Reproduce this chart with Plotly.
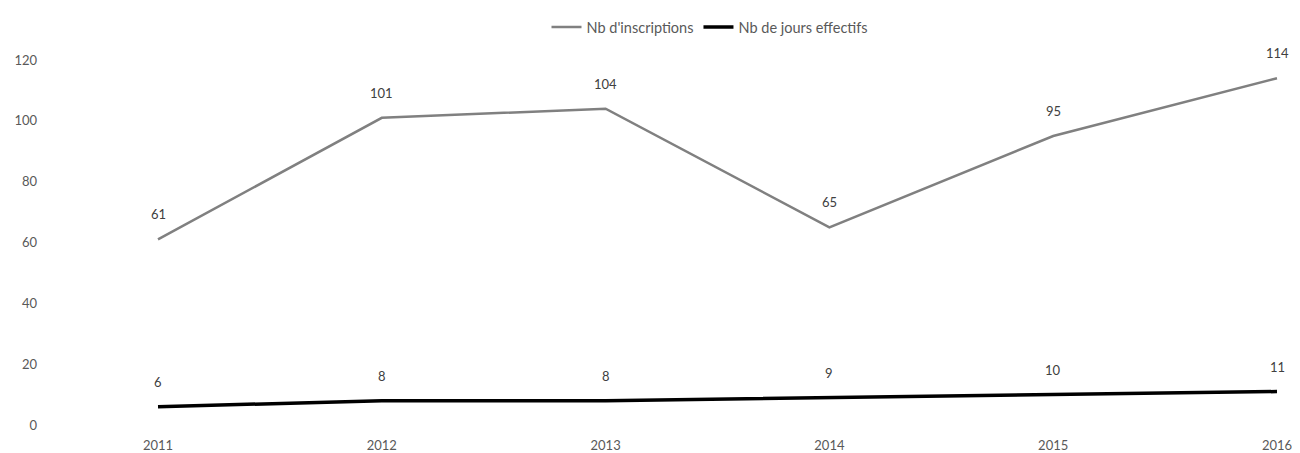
import plotly.graph_objects as go

years = [2011, 2012, 2013, 2014, 2015, 2016]
inscriptions = [61, 101, 104, 65, 95, 114]
jours = [6, 8, 8, 9, 10, 11]
y_ticks = [0, 20, 40, 60, 80, 100, 120]

FONT = "Lato, Open Sans, sans-serif"
TXT = "#595959"

fig = go.Figure()
fig.add_trace(go.Scatter(x=years, y=inscriptions, mode="lines", name="Nb d'inscriptions",
                         line=dict(color="#808080", width=2.5)))
fig.add_trace(go.Scatter(x=years, y=jours, mode="lines", name="Nb de jours effectifs",
                         line=dict(color="#000000", width=3.5)))

annotations = []
for series in (inscriptions, jours):
    for x, y in zip(years, series):
        annotations.append(dict(x=x, y=y, xref="x", yref="y", text=str(y), showarrow=False,
                                yshift=25, font=dict(family=FONT, size=13, color="#404040")))

# page body has an 8px margin, so the figure is sized to fit the remaining viewport
W, H = 1292, 445
left, right = 30, 8
x_first, x_last = 150, 1269  # figure pixel positions of first/last year
step = (x_last - x_first) / (len(years) - 1)
r0 = years[0] - (x_first - left) / step
r1 = years[-1] + (W - right - x_last) / step

fig.update_layout(
    width=W, height=H,
    margin=dict(l=left, r=right, t=52, b=28, autoexpand=False),
    paper_bgcolor="white", plot_bgcolor="white",
    font=dict(family=FONT, size=13, color=TXT),
    showlegend=True,
    legend=dict(orientation="h", x=702 / W, xanchor="center", xref="container",
                y=1 - 3 / H, yanchor="top", yref="container",
                font=dict(size=14.5, color=TXT), itemwidth=30),
    annotations=annotations,
    xaxis=dict(range=[r0, r1], tickvals=years, ticktext=[str(y) for y in years],
               showgrid=False, zeroline=False, automargin=False, ticklabelstandoff=11,
               showline=False, ticks="", tickfont=dict(size=13, color=TXT)),
    yaxis=dict(range=[0, 120], tickvals=y_ticks, showgrid=False, zeroline=False,
               automargin=False, showline=False, ticks="", tickfont=dict(size=13, color=TXT)),
)

fig.write_html("out.html")
